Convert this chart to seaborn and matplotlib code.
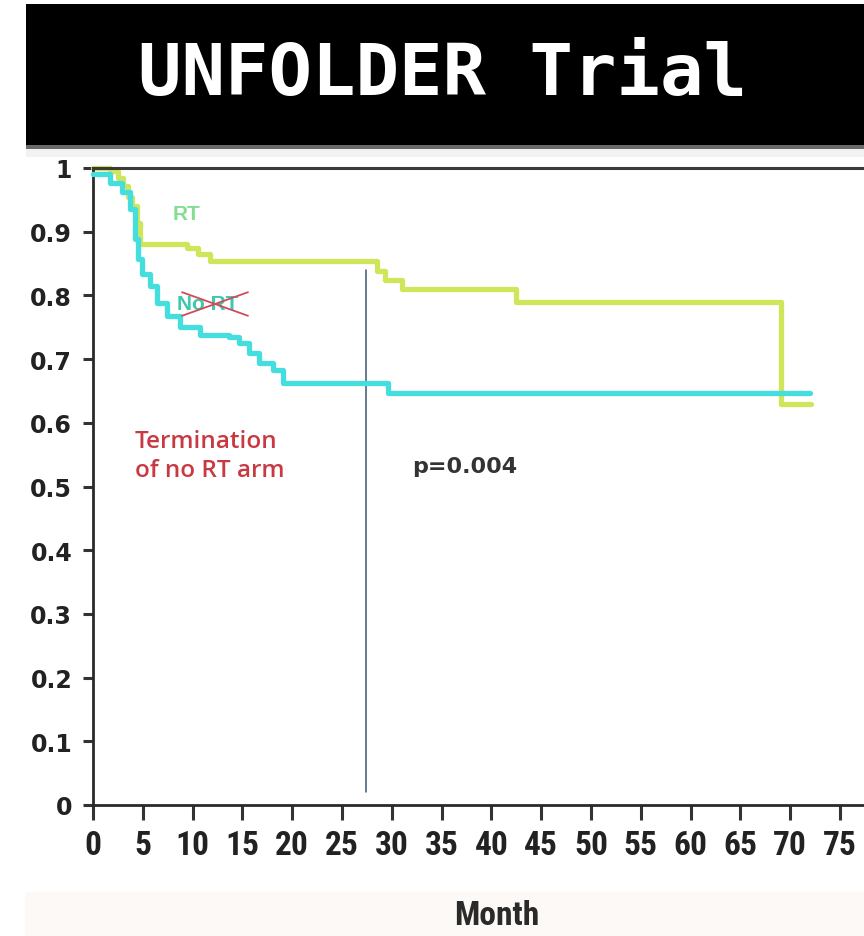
import numpy as np
import pandas as pd
import matplotlib
matplotlib.use("Agg")
import matplotlib.pyplot as plt
from matplotlib.patches import Rectangle
from matplotlib import font_manager
import seaborn as sns

# ---- data ----
rt_month = [0, 1.7, 2.5, 3.0, 3.5, 3.9, 4.4, 4.7, 9.4, 10.5, 11.7, 28.5, 29.3, 31.0, 42.5, 69.1, 72.1]
rt_surv = [1.0, 0.995, 0.985, 0.972, 0.955, 0.94, 0.914, 0.88, 0.875, 0.865, 0.854, 0.838, 0.824, 0.81, 0.79, 0.629, 0.629]

nort_month = [0, 1.7, 2.9, 3.7, 4.2, 4.5, 4.9, 5.7, 6.4, 7.4, 8.7, 10.7, 13.7, 14.7, 15.7, 16.7, 18.1, 19.1, 29.6, 72.0]
nort_surv = [0.99, 0.977, 0.962, 0.935, 0.888, 0.857, 0.833, 0.814, 0.788, 0.767, 0.751, 0.738, 0.735, 0.725, 0.709, 0.694, 0.683, 0.662, 0.646, 0.646]

arms = ["No RT", "RT"]
x_ticks = list(range(0, 80, 5))
y_ticks = [0, 0.1, 0.2, 0.3, 0.4, 0.5, 0.6, 0.7, 0.8, 0.9, 1]
y_ticklabels = ["0", "0.1", "0.2", "0.3", "0.4", "0.5", "0.6", "0.7", "0.8", "0.9", "1"]
termination_month = 27.4
p_text = "p=0.004"
title = "UNFOLDER Trial"

df = pd.concat([
    pd.DataFrame({"month": nort_month, "survival": nort_surv, "arm": arms[0]}),
    pd.DataFrame({"month": rt_month, "survival": rt_surv, "arm": arms[1]}),
], ignore_index=True)

sns.set_theme(style="white")
plt.rcParams["font.family"] = ["DejaVu Sans"]

# look for a condensed bold sans font for the x tick labels
narrow_path = None
for f in font_manager.fontManager.ttflist:
    fn = f.fname.lower()
    if ("narrow" in fn or "condensed" in fn) and "bold" in fn and "italic" not in fn and "oblique" not in fn:
        if "liberation" in fn or "dejavu" in fn or "noto" in fn or "roboto" in fn or "opensans" in fn:
            narrow_path = f.fname
            if "liberation" in fn:
                break
if narrow_path:
    xtick_fp = font_manager.FontProperties(fname=narrow_path, size=24)
    month_fp = font_manager.FontProperties(fname=narrow_path, size=24)
else:
    xtick_fp = font_manager.FontProperties(family="Liberation Sans", weight="bold", size=18)
    month_fp = font_manager.FontProperties(family="Liberation Sans", weight="bold", size=19)

W, H = 864, 937
fig = plt.figure(figsize=(W / 100, H / 100), dpi=100)
fig.patch.set_facecolor("white")

def fx(px):
    return px / W

def fy(py):
    return 1 - py / H

# banner
fig.patches.append(Rectangle((fx(26), fy(146)), fx(W - 26), 141 / H, transform=fig.transFigure,
                             facecolor="black", edgecolor="none", zorder=0))
fig.patches.append(Rectangle((fx(26), fy(150)), fx(W - 26), 4 / H, transform=fig.transFigure,
                             facecolor="#6a6a6a", edgecolor="none", zorder=0))
fig.patches.append(Rectangle((fx(26), fy(158)), fx(W - 26), 8 / H, transform=fig.transFigure,
                             facecolor="#f2f2f2", edgecolor="none", zorder=0))
fig.patches.append(Rectangle((fx(25), fy(937)), fx(W - 25), 44 / H, transform=fig.transFigure,
                             facecolor="#fdf9f6", edgecolor="none", zorder=0))
fig.text(fx(442), fy(76), title, color="white", fontsize=52, fontweight="bold",
         family="DejaVu Sans Mono", ha="center", va="center")

# axes
ax = fig.add_axes([fx(93), fy(806), 1 - fx(93), (806 - 169) / H])
ax.set_facecolor("white")

sns.lineplot(data=df, x="month", y="survival", hue="arm", hue_order=arms,
             palette={"No RT": "#45dede", "RT": "#cfe65a"},
             drawstyle="steps-post", linewidth=3.8, legend=False,
             estimator=None, sort=False, ax=ax, clip_on=False)
lines = ax.get_lines()
if len(lines) >= 2:
    lines[0].set_zorder(3)
    lines[1].set_zorder(2.5)

ax.plot([termination_month, termination_month], [0.02, 0.84], color="#3a5673", lw=1.1, zorder=2)

ax.set_xlim(0, (W - 93) / 9.96)
ax.set_ylim(0, 1)
ax.set_xticks(x_ticks)
ax.set_xticklabels([str(t) for t in x_ticks], fontproperties=xtick_fp, color="#222222")
ax.set_yticks(y_ticks)
ax.set_yticklabels(y_ticklabels, family="DejaVu Sans", fontweight="bold", fontsize=17, color="#222222")
ax.tick_params(axis="x", direction="out", length=11, width=2.2, color="#333333", pad=6, bottom=True)
ax.tick_params(axis="y", direction="out", length=7, width=2.2, color="#333333", pad=8, left=True)

for s in ["left", "bottom"]:
    ax.spines[s].set_color("#2a2a2a")
    ax.spines[s].set_linewidth(2.0)
ax.spines["top"].set_color("#3a3a3a")
ax.spines["top"].set_linewidth(2.2)
ax.spines["right"].set_visible(False)

ax.set_xlabel("")
ax.set_ylabel("")
fig.text(fx(497), fy(916), "Month", fontproperties=month_fp,
         color="#2a2a2a", ha="center", va="center")

# annotations
ax.text(8.0, 0.928, "RT", color="#84de90", fontsize=15, fontweight="bold",
        family="Liberation Sans", ha="left", va="center")
ax.text(8.4, 0.788, "No RT", color="#3cc9ad", fontsize=15, fontweight="bold",
        family="Liberation Sans", ha="left", va="center")
ax.plot([8.94, 15.56], [0.805, 0.768], color="#d4485a", lw=1.3, zorder=4)
ax.plot([8.94, 15.56], [0.768, 0.805], color="#d4485a", lw=1.3, zorder=4)

ax.text(4.2, 0.549, "Termination\nof no RT arm", color="#c83a42", fontsize=17.5, fontweight="semibold",
        family="Open Sans", ha="left", va="center", linespacing=1.3)
ax.text(32.0, 0.532, p_text, color="#333333", fontsize=16, fontweight="bold",
        family="DejaVu Sans", ha="left", va="center")

fig.savefig("out.png", dpi=100)
